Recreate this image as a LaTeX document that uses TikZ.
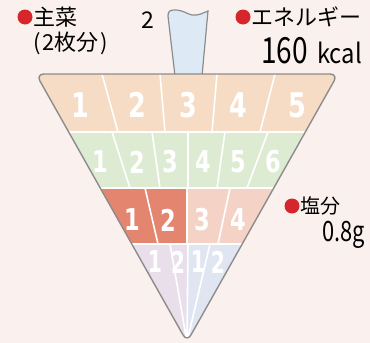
\documentclass[tikz,border=0pt]{standalone}
\usepackage{fontspec}
\setmainfont{Noto Sans CJK JP}
\newfontfamily\numfont{DejaVu Sans}[BoldFont={DejaVu Sans Bold}]
\usetikzlibrary{positioning}

\definecolor{bgpink}{HTML}{FAF1EE}
\definecolor{peach}{HTML}{F6DCC4}
\definecolor{mint}{HTML}{DDEBD3}
\definecolor{salmon}{HTML}{E4866F}
\definecolor{blush}{HTML}{F4D2C6}
\definecolor{lilac}{HTML}{E8DFEB}
\definecolor{skyblue}{HTML}{DFE6F2}
\definecolor{tubeblue}{HTML}{DDEAF6}
\definecolor{edgegray}{HTML}{8C8C8C}
\definecolor{dotred}{HTML}{D7262B}

\newcommand{\cn}[1]{\scalebox{0.75}[1]{#1}}
\newcommand{\narrow}[2]{\scalebox{#1}[1]{#2}}

\tikzstyle{dot} = [circle, fill=dotred, inner sep=0pt, minimum size=15pt]
\tikzstyle{jp} = [inner sep=0pt, font=\fontsize{22}{26}\selectfont]
\tikzstyle{num} = [inner sep=0pt, text=white, font=\numfont\bfseries\fontsize{30}{30}\selectfont]
\tikzstyle{bignum} = [num, font=\numfont\bfseries\fontsize{34}{34}\selectfont]
\tikzstyle{sep} = [white, line width=1.6pt]
\tikzstyle{rim} = [draw=edgegray, line width=1.4pt, rounded corners=8pt]

\begin{document}
\begin{tikzpicture}[x=1pt,y=-1pt]
  \useasboundingbox (0,0) rectangle (370,343);
  \fill[bgpink] (0,0) rectangle (370,343);

  % tube on top
  \draw[rim, rounded corners=0pt, line width=1.2pt, fill=tubeblue]
    (175,76) -- (168,16) .. controls (168,11) and (170,10) .. (175,10)
    .. controls (183,10) and (187,14) .. (192,15)
    .. controls (198,16) and (203,13) .. (208,11) -- (202,76);

  % funnel rows
  \begin{scope}
    \clip[rounded corners=8pt] (36,74) -- (338,74) -- (187,342) -- cycle;
    \fill[peach] (0,70) rectangle (370,132);
    \fill[mint] (0,132) rectangle (370,188);
    \fill[salmon] (0,188) rectangle (187,244);
    \fill[blush] (187,188) rectangle (370,244);
    \fill[lilac] (0,244) rectangle (187.5,343);
    \fill[skyblue] (187.5,244) rectangle (370,343);

    \draw[sep] (0,132) -- (370,132) (0,188) -- (370,188) (0,244) -- (370,244);
    \draw[sep] (102,74) -- (118,132) (160,74) -- (165,132)
               (217,74) -- (212,132) (275,74) -- (260,132);
    \draw[sep] (112,132) -- (130,188) (152,132) -- (160,188) (188,132) -- (188,188)
               (225,132) -- (217,188) (268,132) -- (247,188);
    \draw[sep] (145,188) -- (158,244) (187,188) -- (187,244) (230,188) -- (218,244);
    \draw[sep] (170,244) -- (187,342) (188,244) -- (187,342) (210,244) -- (187,342);
  \end{scope}
  \draw[rim] (36,74) -- (338,74) -- (187,342) -- cycle;

  % cell numbers
  \node[bignum] (a1) at (80,105) {\cn{1}};
  \node[bignum] (a2) at (137,105) {\cn{2}};
  \node[bignum] (a3) at (188,105) {\cn{3}};
  \node[bignum] (a4) at (238,105) {\cn{4}};
  \node[bignum] (a5) at (297,105) {\cn{5}};

  \node[num] (b1) at (100,162) {\cn{1}};
  \node[num] (b2) at (137,162) {\cn{2}};
  \node[num] (b3) at (170,162) {\cn{3}};
  \node[num] (b4) at (203,162) {\cn{4}};
  \node[num] (b5) at (238,162) {\cn{5}};
  \node[num] (b6) at (273,162) {\cn{6}};

  \node[num] (c1) at (132,220) {\cn{1}};
  \node[num] (c2) at (168,220) {\cn{2}};
  \node[num] (c3) at (202,220) {\cn{3}};
  \node[num] (c4) at (238,220) {\cn{4}};

  \node[num] (d1) at (155,262) {\narrow{0.68}{1}};
  \node[num] (d2) at (178,262) {\narrow{0.68}{2}};
  \node[num] (d3) at (198,262) {\narrow{0.68}{1}};
  \node[num] (d4) at (218,262) {\narrow{0.68}{2}};

  % labels
  \node[dot] (dotA) at (25,17) {};
  \node[jp, right=1pt of dotA] (dish) {主菜};
  \node[jp, anchor=west] (pieces) at (33,43) {(\kern2pt 2枚分\kern2pt)};
  \node[jp, font=\fontsize{23}{23}\selectfont] (two) at (148,20) {2};

  \node[dot] (dotB) at (243,17) {};
  \node[jp, right=1pt of dotB] (energy) {エネルギー};
  \node[inner sep=0pt, anchor=base west, font=\fontsize{36}{36}\selectfont]
    (kcalval) at (261,63) {\narrow{0.78}{160}};
  \node[inner sep=0pt, anchor=base west, font=\fontsize{27}{27}\selectfont]
    (kcal) at (317,63) {\narrow{0.88}{kcal}};

  \node[dot] (dotC) at (292,206) {};
  \node[jp, right=1pt of dotC, font=\fontsize{20}{22}\selectfont] (salt) {塩分};
  \node[inner sep=0pt, anchor=base west, font=\fontsize{28}{28}\selectfont]
    (saltval) at (322,241) {\narrow{0.78}{0.8g}};
\end{tikzpicture}
\end{document}
